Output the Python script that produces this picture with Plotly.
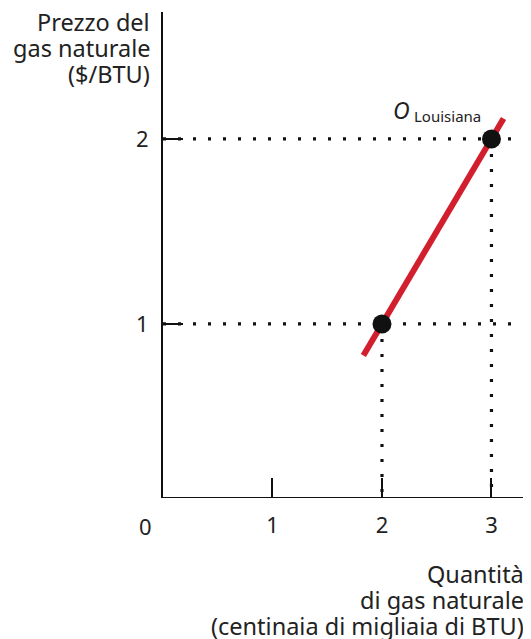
import plotly.graph_objects as go

# Data
qty_points = [2, 3]          # quantità (centinaia di migliaia di BTU)
price_points = [1, 2]        # prezzo ($/BTU)
supply_x = [1.83, 3.11]      # estremi della retta di offerta
supply_y = [0.83, 2.11]
x_ticks = [1, 2, 3]
y_ticks = [1, 2]
point_label = "Louisiana"
y_title_lines = ["Prezzo del", "gas naturale", "($/BTU)"]
x_title_lines = ["Quantità", "di gas naturale", "(centinaia di migliaia di BTU)"]

X_MAX = 3.361
Y_MIN = 0.0595
Y_MAX = 2.686
FONT = "Noto Sans"
TXT = "#222222"

# page offset of the plot div (body margin) compensated in figure size
W, H = 523, 631
PLOT_TOP_PAGE, PLOT_BOTTOM_PAGE, PLOT_LEFT_PAGE = 12, 498, 163
PLOT_W = 368
PLOT_H = PLOT_BOTTOM_PAGE - PLOT_TOP_PAGE


def px(xp):
    return (xp - PLOT_LEFT_PAGE) / PLOT_W


def py(yp):
    return (PLOT_BOTTOM_PAGE - yp) / PLOT_H


fig = go.Figure()

dot_style = dict(color="#111111", width=3.2, dash="3px,12px")
for p in price_points:
    fig.add_trace(go.Scatter(x=[0, X_MAX], y=[p, p], mode="lines", line=dot_style,
                             hoverinfo="skip", showlegend=False))
for q, p in zip(qty_points, price_points):
    fig.add_trace(go.Scatter(x=[q, q], y=[p, Y_MIN], mode="lines", line=dot_style,
                             hoverinfo="skip", showlegend=False))

fig.add_trace(go.Scatter(x=supply_x, y=supply_y, mode="lines",
                         line=dict(color="#d21f2e", width=6), showlegend=False))
fig.add_trace(go.Scatter(x=qty_points, y=price_points, mode="markers",
                         marker=dict(color="#111111", size=19), showlegend=False))

fig.add_shape(type="line", x0=0, x1=3.29, y0=Y_MIN, y1=Y_MIN, xref="x", yref="y",
              line=dict(color="#111111", width=2))

fig.update_xaxes(range=[0, X_MAX], showgrid=False, zeroline=False, showline=False,
                 ticks="inside", ticklen=20, tickwidth=2, tickcolor="#111111",
                 tickvals=x_ticks, ticktext=[str(v) for v in x_ticks],
                 tickfont=dict(family=FONT, size=22, color=TXT),
                 ticklabelstandoff=12)
fig.update_yaxes(range=[Y_MIN, Y_MAX], showgrid=False, zeroline=False, showline=True,
                 linecolor="#111111", linewidth=2,
                 ticks="inside", ticklen=20, tickwidth=2, tickcolor="#111111",
                 tickvals=y_ticks, ticktext=[str(v) for v in y_ticks],
                 tickfont=dict(family=FONT, size=22, color=TXT),
                 ticklabelstandoff=8)

anns = [dict(text="0", xref="paper", yref="paper", x=px(145), y=py(526),
             xanchor="center", yanchor="middle", showarrow=False,
             font=dict(family=FONT, size=22, color=TXT))]

for line, yc in zip(y_title_lines, [22, 48, 74]):
    anns.append(dict(text=line, xref="paper", yref="paper", x=px(152), y=py(yc),
                     xanchor="right", yanchor="middle", showarrow=False,
                     font=dict(family=FONT, size=23.5, color=TXT)))
for line, yc in zip(x_title_lines, [574, 600, 626]):
    anns.append(dict(text=line, xref="paper", yref="paper", x=px(526), y=py(yc),
                     xanchor="right", yanchor="middle", showarrow=False,
                     font=dict(family=FONT, size=23.5, color=TXT)))

anns.append(dict(text="<i>O</i>", xref="paper", yref="paper", x=px(401), y=py(110),
                 xanchor="center", yanchor="middle", showarrow=False,
                 font=dict(family=FONT, size=23, color=TXT)))
anns.append(dict(text=point_label, xref="paper", yref="paper", x=px(412), y=py(116),
                 xanchor="left", yanchor="middle", showarrow=False,
                 font=dict(family=FONT, size=15, color=TXT)))

fig.update_layout(width=W, height=H,
                  margin=dict(l=PLOT_LEFT_PAGE - 8, r=0, t=PLOT_TOP_PAGE - 8,
                              b=H - (PLOT_BOTTOM_PAGE - 8)),
                  plot_bgcolor="white", paper_bgcolor="white",
                  annotations=anns, showlegend=False)

fig.write_html("out.html")
